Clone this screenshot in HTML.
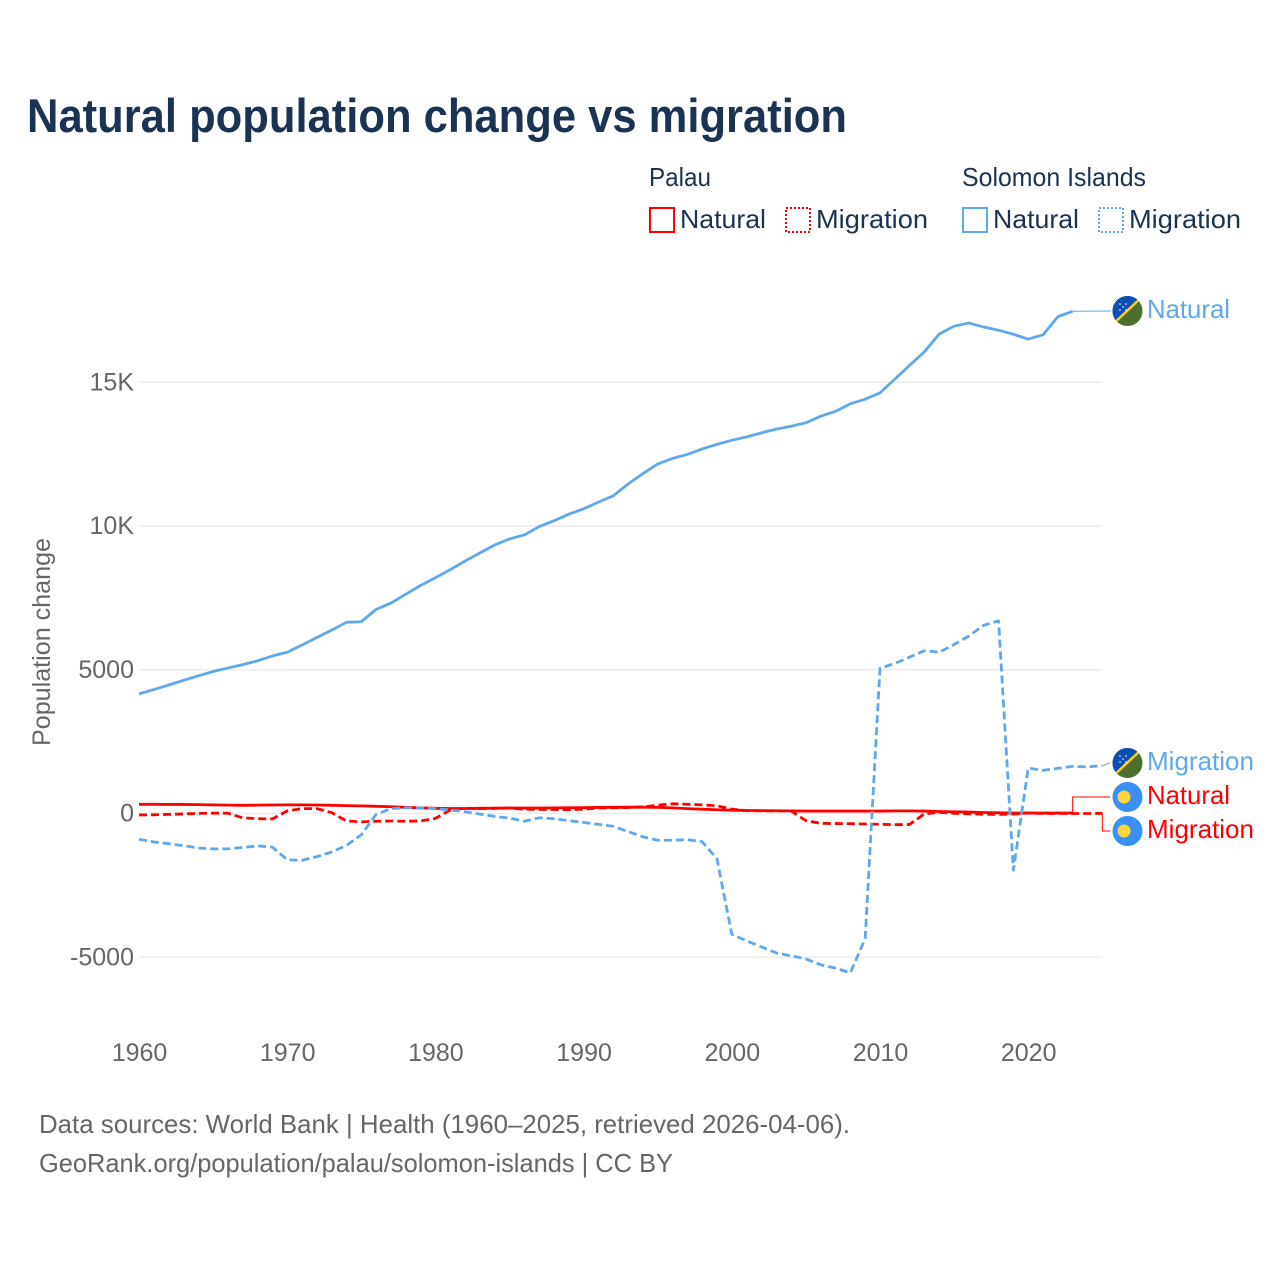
<!DOCTYPE html>
<html lang="en">
<head>
<meta charset="utf-8">
<title>Natural population change vs migration</title>
<style>
html,body{margin:0;padding:0;background:#fff;}
svg{display:block;font-family:"Liberation Sans",sans-serif;}
</style>
</head>
<body>
<svg id="chart" xmlns="http://www.w3.org/2000/svg" width="1280" height="1280" viewBox="0 0 1280 1280">
  <defs>
    <clipPath id="flag-clip-a"><circle cx="1127.5" cy="311" r="15"/></clipPath>
    <clipPath id="flag-clip-b"><circle cx="1127.5" cy="763" r="15"/></clipPath>
  </defs>
  <rect width="1280" height="1280" fill="#fff"/>
  <text x="27" y="132" font-size="47" font-weight="700" fill="#1a3352" textLength="820" lengthAdjust="spacingAndGlyphs">Natural population change vs migration</text>

  <g font-size="26" fill="#1a3352">
    <text x="649" y="186" textLength="62" lengthAdjust="spacingAndGlyphs">Palau</text>
    <text x="962" y="186" textLength="184" lengthAdjust="spacingAndGlyphs">Solomon Islands</text>
    <rect x="650" y="208" width="24" height="24" fill="none" stroke="#ff0000" stroke-width="2"/>
    <text x="680" y="228" textLength="86" lengthAdjust="spacingAndGlyphs">Natural</text>
    <rect x="786" y="208" width="24" height="24" fill="none" stroke="#ff0000" stroke-width="2" stroke-dasharray="2 2"/>
    <text x="816" y="228" textLength="112" lengthAdjust="spacingAndGlyphs">Migration</text>
    <rect x="963" y="208" width="24" height="24" fill="none" stroke="#5fa8ee" stroke-width="2"/>
    <text x="993" y="228" textLength="86" lengthAdjust="spacingAndGlyphs">Natural</text>
    <rect x="1099" y="208" width="24" height="24" fill="none" stroke="#5fa8ee" stroke-width="2" stroke-dasharray="2 2"/>
    <text x="1129" y="228" textLength="112" lengthAdjust="spacingAndGlyphs">Migration</text>
  </g>

  <g id="grid"></g>
  <g id="yticks" font-size="25" fill="#666"></g>
  <g id="xticks" font-size="25" fill="#666"></g>
  <text transform="translate(50 642) rotate(-90)" text-anchor="middle" font-size="25" fill="#666" textLength="208" lengthAdjust="spacingAndGlyphs">Population change</text>

  <g id="leaders"></g>
  <g id="series"></g>

  <g clip-path="url(#flag-clip-a)">
    <rect x="1112" y="295" width="32" height="32" fill="#4c6f2f"/>
    <polygon points="1112,295 1144,295 1112,327" fill="#0a50b0"/>
    <line x1="1112" y1="325" x2="1143" y2="296" stroke="#fcd116" stroke-width="2.500"/>
    <g fill="#fff"><circle cx="1120" cy="304" r=".8"/><circle cx="1126" cy="304" r=".8"/><circle cx="1123" cy="307" r=".8"/><circle cx="1120" cy="310" r=".8"/><circle cx="1126" cy="310" r=".8"/></g>
  </g>
  <g clip-path="url(#flag-clip-b)">
    <rect x="1112" y="747" width="32" height="32" fill="#4c6f2f"/>
    <polygon points="1112,747 1144,747 1112,779" fill="#0a50b0"/>
    <line x1="1112" y1="777" x2="1143" y2="748" stroke="#fcd116" stroke-width="2.500"/>
    <g fill="#fff"><circle cx="1120" cy="756" r=".8"/><circle cx="1126" cy="756" r=".8"/><circle cx="1123" cy="759" r=".8"/><circle cx="1120" cy="762" r=".8"/><circle cx="1126" cy="762" r=".8"/></g>
  </g>
  <g>
    <circle cx="1127.500" cy="797" r="15" fill="#3a8ff2"/>
    <circle cx="1124" cy="797" r="6.500" fill="#ffd53d"/>
  </g>
  <g>
    <circle cx="1127.500" cy="831" r="15" fill="#3a8ff2"/>
    <circle cx="1124" cy="831" r="6.500" fill="#ffd53d"/>
  </g>

  <g font-size="26">
    <text x="1147" y="318" fill="#5fa8ee" textLength="83" lengthAdjust="spacingAndGlyphs">Natural</text>
    <text x="1147" y="770" fill="#5fa8ee" textLength="107" lengthAdjust="spacingAndGlyphs">Migration</text>
    <text x="1147" y="804" fill="#ff0000" textLength="83" lengthAdjust="spacingAndGlyphs">Natural</text>
    <text x="1147" y="838" fill="#ff0000" textLength="107" lengthAdjust="spacingAndGlyphs">Migration</text>
  </g>

  <g font-size="26" fill="#666">
    <text x="39" y="1133" textLength="811" lengthAdjust="spacingAndGlyphs">Data sources: World Bank | Health (1960–2025, retrieved 2026-04-06).</text>
    <text x="39" y="1172" textLength="634" lengthAdjust="spacingAndGlyphs">GeoRank.org/population/palau/solomon-islands | CC BY</text>
  </g>
</svg>
<script>
const startYear = 1960;
const xTickYears = [1960, 1970, 1980, 1990, 2000, 2010, 2020];
const yTickValues = [15000, 10000, 5000, 0, -5000];
const yTickLabels = ['15K', '10K', '5000', '0', '-5000'];

const palauNatural = [
  320,320,315,315,310,300,290,285,290,295,
  300,300,295,285,275,265,250,235,215,195,
  180,175,175,180,185,190,190,190,195,200,
  205,210,215,220,220,215,195,170,150,130,
  115,105,100,95,90,85,85,85,85,85,
  85,90,90,85,70,60,50,35,25,15,
  15,15,15,15
];
const palauMigration = [
  -50,-45,-30,-15,5,10,10,-150,-180,-190,
  90,170,170,30,-260,-290,-270,-260,-270,-260,
  -170,120,180,170,180,190,150,140,140,130,
  150,190,200,210,230,290,340,320,300,270,
  150,100,90,90,90,-250,-340,-350,-355,-365,
  -375,-390,-380,-10,40,5,-10,-25,-30,-20,
  15,0,0,0,0,5
];
const solomonNatural = [
  4160,4310,4470,4630,4790,4940,5060,5180,5310,5480,
  5610,5860,6120,6380,6650,6670,7100,7320,7630,7930,
  8200,8480,8780,9060,9340,9550,9690,9980,10180,10410,
  10600,10830,11050,11460,11820,12160,12350,12490,12680,12840,
  12980,13100,13240,13370,13470,13590,13820,13990,14250,14410,
  14630,15110,15590,16060,16680,16950,17060,16920,16810,16670,
  16500,16650,17280,17470
];
const solomonMigration = [
  -900,-990,-1050,-1120,-1200,-1230,-1230,-1180,-1130,-1170,
  -1610,-1630,-1500,-1340,-1110,-740,-30,170,200,190,
  170,120,60,-20,-100,-160,-270,-150,-180,-250,
  -310,-380,-445,-630,-810,-930,-930,-910,-980,-1580,
  -4200,-4430,-4640,-4850,-4950,-5060,-5260,-5380,-5540,-4350,
  5050,5220,5440,5660,5610,5880,6170,6550,6700,-1970,
  1580,1500,1570,1640,1620,1660
];

const NS = 'http://www.w3.org/2000/svg';
function xScale(year) { return 139 + (year - 1960) * 14.82; }
function yScale(value) { return 813.5 - value * 0.02875; }
function make(tag, attrs, parent) {
  const el = document.createElementNS(NS, tag);
  for (const k in attrs) el.setAttribute(k, attrs[k]);
  parent.appendChild(el);
  return el;
}
function linePath(values) {
  return values.map(function (v, i) {
    return (i ? 'L' : 'M') + xScale(startYear + i).toFixed(2) + ' ' + yScale(v).toFixed(2);
  }).join(' ');
}
function endPoint(values) {
  const i = values.length - 1;
  return { x: xScale(startYear + i), y: yScale(values[i]) };
}

const grid = document.getElementById('grid');
const yticks = document.getElementById('yticks');
yTickValues.forEach(function (v, i) {
  const gl = make('line', { x1: xScale(1960), x2: xScale(2025), y1: yScale(v), y2: yScale(v), stroke: '#ececec', 'stroke-width': 1.5 }, grid);
  
  
  const t = make('text', { x: 134, y: yScale(v) + 8, 'text-anchor': 'end' }, yticks);
  
  
  t.textContent = yTickLabels[i];
});

const xticks = document.getElementById('xticks');
xTickYears.forEach(function (yr) {
  const t = make('text', { x: xScale(yr) + 0.5, y: 1061, 'text-anchor': 'middle' }, xticks);
  
  
  t.textContent = String(yr);
});

const series = document.getElementById('series');
const pm = make('path', { d: linePath(palauMigration), fill: 'none', stroke: '#ff0000', 'stroke-width': 2.8, 'stroke-dasharray': '8 4', 'stroke-linejoin': 'round' }, series);


const pn = make('path', { d: linePath(palauNatural), fill: 'none', stroke: '#ff0000', 'stroke-width': 2.8, 'stroke-linejoin': 'round' }, series);


const sm = make('path', { d: linePath(solomonMigration), fill: 'none', stroke: '#5fa8ee', 'stroke-width': 2.8, 'stroke-dasharray': '8 4', 'stroke-linejoin': 'round' }, series);


const sn = make('path', { d: linePath(solomonNatural), fill: 'none', stroke: '#5fa8ee', 'stroke-width': 2.8, 'stroke-linejoin': 'round' }, series);



const leaders = document.getElementById('leaders');
const snEnd = endPoint(solomonNatural);
const smEnd = endPoint(solomonMigration);
const pnEnd = endPoint(palauNatural);
const pmEnd = endPoint(palauMigration);
const l1 = make('path', { d: 'M' + snEnd.x + ' ' + snEnd.y + ' L1111 311', fill: 'none', stroke: '#5fa8ee', 'stroke-width': 1 }, leaders);


const l2 = make('path', { d: 'M' + smEnd.x + ' ' + smEnd.y + ' L1110 763', fill: 'none', stroke: '#5fa8ee', 'stroke-width': 1 }, leaders);


const l3 = make('path', { d: 'M' + pnEnd.x + ' ' + pnEnd.y + ' V797 H1110', fill: 'none', stroke: '#ff0000', 'stroke-width': 1 }, leaders);


const l4 = make('path', { d: 'M' + pmEnd.x + ' ' + pmEnd.y + ' V831 H1110', fill: 'none', stroke: '#ff0000', 'stroke-width': 1 }, leaders);


</script>
</body>
</html>
